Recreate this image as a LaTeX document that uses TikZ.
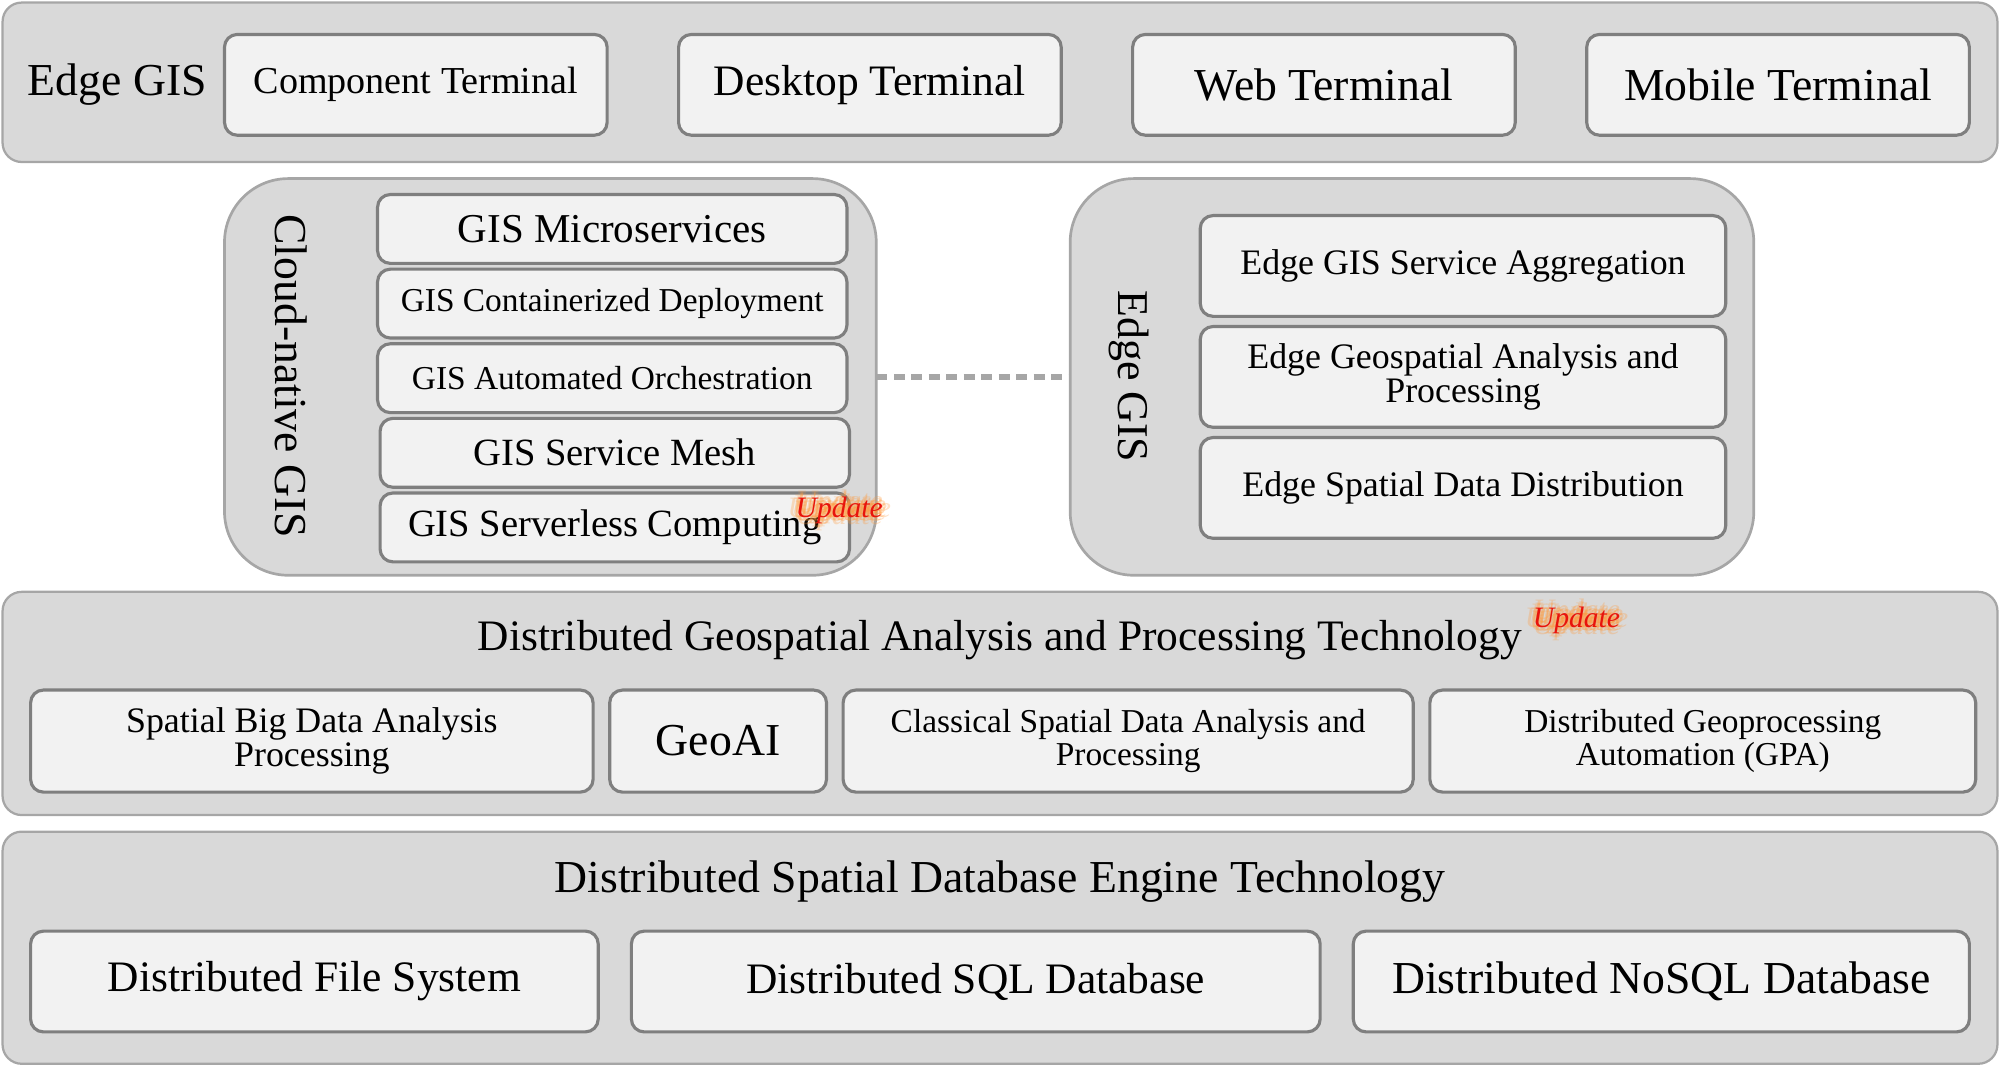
\documentclass[tikz,border=0pt]{standalone}
\usepackage{fontspec}
\setmainfont{Liberation Serif}
\usepackage{xcolor}
\usepackage{tikz}
\usetikzlibrary{positioning}
\pgfdeclarelayer{background}
\pgfsetlayers{background,main}
\definecolor{bandfill}{HTML}{D9D9D9}
\definecolor{bandline}{HTML}{A6A6A6}
\definecolor{itemfill}{HTML}{F2F2F2}
\definecolor{itemline}{HTML}{7F7F7F}
\definecolor{updred}{HTML}{E8140C}
\definecolor{updglow}{HTML}{FF9A3C}
\tikzstyle{band}     = [rectangle, rounded corners=1.5mm, draw=bandline, fill=bandfill, line width=0.5pt, inner sep=0pt, outer sep=0pt]
\tikzstyle{group}    = [rectangle, rounded corners=5mm, draw=bandline, fill=bandfill, line width=0.6pt, inner sep=0pt, outer sep=0pt]
\tikzstyle{item}     = [rectangle, rounded corners=1mm, draw=itemline, fill=itemfill, line width=0.7pt, align=center, inner sep=1pt, outer sep=0pt]
\tikzstyle{bigtext}  = [font=\fontsize{10.2}{11}\selectfont]
\tikzstyle{midtext}  = [font=\fontsize{9.7}{10.5}\selectfont]
\tikzstyle{smltext}  = [font=\fontsize{8.6}{9}\selectfont]
\tikzstyle{twotext}  = [font=\fontsize{8}{7.6}\selectfont]
\tikzstyle{tintext}  = [font=\fontsize{7.45}{7.2}\selectfont]
\tikzstyle{link}     = [draw=bandline, line width=1.5pt, dash pattern=on 2.5pt off 1.4pt]
\tikzstyle{upd}      = [font=\fontsize{6.6}{7}\selectfont\itshape, text=updred, inner sep=0pt]
\tikzstyle{updhalo}  = [font=\fontsize{6.6}{7}\selectfont\itshape, text=updglow, text opacity=0.3, inner sep=0pt]

% red "Update" tag with a soft orange halo
\newcommand{\updtag}[3]{%
  \foreach \dx/\dy in {1/0,-1/0,0/1,0/-1,.7/.7,-.7/.7,.7/-.7,-.7/-.7,1.8/0,-1.8/0,0/1.6,0/-1.6}
    \node [updhalo, xshift=\dx pt, yshift=\dy pt] at #2 {#3};
  \node (#1) [upd] at #2 {#3};}

\begin{document}
\begin{tikzpicture}[x=0.1mm, y=-0.1mm]
    \useasboundingbox (0,0) rectangle (1568,836);

    % terminals
    \node (edgelbl) [bigtext] at (92,66) {Edge GIS};
    \node (comp) [item, font=\fontsize{8.5}{9}\selectfont, minimum width=30mm, minimum height=7.9mm] at (326,66.5) {Component Terminal};
    \node (desk) [item, midtext, minimum width=30mm, minimum height=7.9mm, right=5.6mm of comp] {Desktop Terminal};
    \node (web)  [item, bigtext, minimum width=30mm, minimum height=7.9mm, right=5.6mm of desk] {Web Terminal};
    \node (mob)  [item, bigtext, minimum width=30mm, minimum height=7.9mm, right=5.6mm of web] {Mobile Terminal};

    % cloud-native GIS
    \node (cnlbl) [bigtext, rotate=-90] at (228,295) {Cloud-native GIS};
    \node (micro) [item, font=\fontsize{9.15}{10}\selectfont, minimum width=36.8mm, minimum height=5.4mm] at (480,179.5) {GIS Microservices};
    \node (cont)  [item, tintext, minimum width=36.8mm, minimum height=5.4mm, below=0.45mm of micro] {GIS Containerized Deployment};
    \node (orch)  [item, tintext, minimum width=36.8mm, minimum height=5.4mm, below=0.45mm of cont] {GIS Automated Orchestration};
    \node (mesh)  [item, smltext, minimum width=36.8mm, minimum height=5.4mm, below=0.45mm of orch, xshift=0.2mm] {GIS Service Mesh};
    \node (srvl)  [item, smltext, minimum width=36.8mm, minimum height=5.4mm, below=0.45mm of mesh] {GIS Serverless Computing};
    \updtag{upda}{(658,400)}{Update}

    % edge GIS
    \node (eglbl) [font=\fontsize{9.8}{10.5}\selectfont, rotate=-90] at (885,295) {Edge GIS};
    \node (aggr) [item, twotext, minimum width=41.2mm, minimum height=7.9mm] at (1147,208.5) {Edge GIS Service Aggregation};
    \node (egap) [item, twotext, minimum width=41.2mm, minimum height=7.9mm, below=0.8mm of aggr] {Edge Geospatial Analysis and\\Processing};
    \node (esdd) [item, twotext, minimum width=41.2mm, minimum height=7.9mm, below=0.8mm of egap] {Edge Spatial Data Distribution};

    % analysis and processing
    \node (dgap) [midtext] at (784,502) {Distributed Geospatial Analysis and Processing Technology};
    \updtag{updb}{(1236,486)}{Update}
    \node (sbd)   [item, twotext, minimum width=44.1mm, minimum height=8mm] at (244.5,581) {Spatial Big Data Analysis\\Processing};
    \node (geoai) [item, bigtext, minimum width=17mm, minimum height=8mm, right=1.3mm of sbd] {GeoAI};
    \node (csda)  [item, tintext, minimum width=44.7mm, minimum height=8mm, right=1.3mm of geoai] {Classical Spatial Data Analysis and\\Processing};
    \node (gpa)   [item, tintext, minimum width=42.8mm, minimum height=8mm, right=1.3mm of csda] {Distributed Geoprocessing\\Automation (GPA)};

    % database engine
    \node (dsdb)  [bigtext] at (784,691) {Distributed Spatial Database Engine Technology};
    \node (dfs)   [item, midtext, minimum width=44.5mm, minimum height=7.9mm] at (246.5,769.5) {Distributed File System};
    \node (sql)   [item, midtext, minimum width=54mm, minimum height=7.9mm, right=2.6mm of dfs] {Distributed SQL Database};
    \node (nosql) [item, bigtext, minimum width=48.3mm, minimum height=7.9mm, right=2.6mm of sql] {Distributed NoSQL Database};

    \begin{pgfonlayer}{background}
      \node (termband) [band,  minimum width=156.4mm, minimum height=12.5mm] at (784,64.5) {};
      \node (cloud)    [group, minimum width=51.1mm,  minimum height=31.1mm] at (431.5,295.5) {};
      \node (edge)     [group, minimum width=53.6mm,  minimum height=31.1mm] at (1107,295.5) {};
      \node (procband) [band,  minimum width=156.4mm, minimum height=17.5mm] at (784,551.5) {};
      \node (dbband)   [band,  minimum width=156.4mm, minimum height=18.2mm] at (784,743) {};
    \end{pgfonlayer}

    \draw [link] (cloud.east) -- (edge.west);

\end{tikzpicture}
\end{document}
